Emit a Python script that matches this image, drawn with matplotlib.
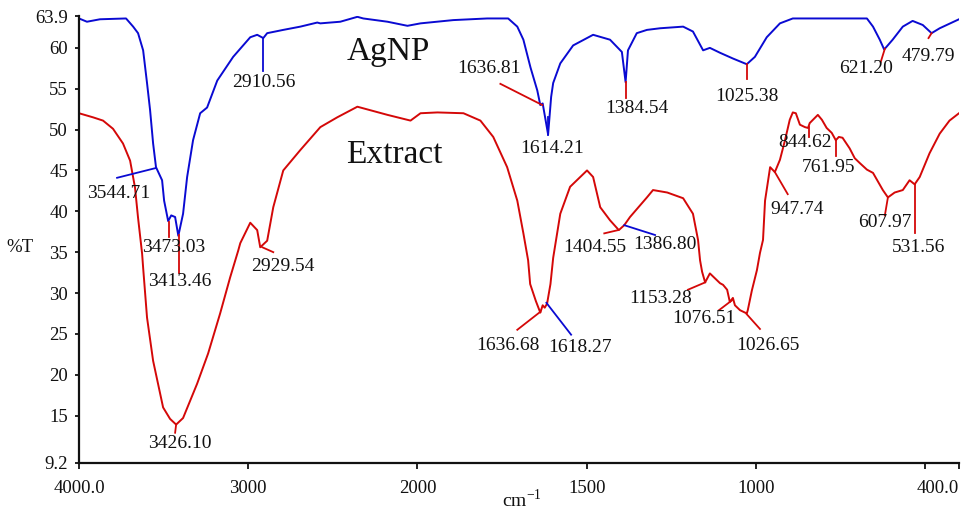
import numpy as np
import matplotlib
matplotlib.use("Agg")
import matplotlib.pyplot as plt

plt.rcParams['font.family'] = ['Liberation Serif', 'DejaVu Serif']
plt.rcParams['mathtext.fontset'] = 'custom'
plt.rcParams['mathtext.rm'] = 'Liberation Serif'

# ---------------- data ----------------
agnp_wn = [4000, 3953, 3876, 3722, 3680, 3651, 3621, 3598, 3580, 3562, 3545, 3509, 3497,
           3473, 3455, 3432, 3413, 3385, 3361, 3326, 3284, 3243, 3183, 3089, 2988, 2947,
           2911, 2888, 2793, 2692, 2592, 2574, 2456, 2355, 2320, 2177, 2059, 1991, 1894,
           1794, 1732, 1705, 1687, 1666, 1646, 1637, 1630, 1614, 1605, 1599, 1578, 1540,
           1481, 1431, 1396, 1385, 1378, 1352, 1322, 1283, 1215, 1186, 1156, 1136, 1106,
           1068, 1027, 1003, 968, 929, 891, 672, 654, 634, 621, 596, 566, 537, 507, 481,
           457, 400]
agnp_t = [63.6, 63.2, 63.5, 63.6, 62.6, 61.8, 59.7, 55.7, 52.4, 48.3, 45.4, 43.8, 41.3,
          38.8, 39.5, 39.3, 37.0, 39.7, 44.2, 48.7, 52.0, 52.7, 56.0, 58.9, 61.3, 61.6,
          61.2, 61.8, 62.2, 62.6, 63.1, 63.0, 63.2, 63.8, 63.6, 63.2, 62.7, 63.0, 63.4,
          63.6, 63.6, 62.6, 61.0, 57.6, 54.8, 53.0, 53.2, 49.4, 54.0, 55.7, 58.1, 60.3,
          61.6, 61.0, 59.5, 55.8, 59.7, 61.8, 62.2, 62.4, 62.6, 62.0, 59.7, 60.0, 59.4,
          58.7, 58.0, 58.9, 61.3, 63.0, 63.6, 63.6, 62.6, 61.0, 59.8, 61.0, 62.6, 63.3,
          62.8, 61.8, 62.4, 63.5]

extract_wn = [4000, 3917, 3858, 3799, 3740, 3698, 3669, 3651, 3627, 3621, 3598, 3562, 3503,
              3462, 3426, 3385, 3302, 3237, 3166, 3107, 3059, 3047, 2988, 2947, 2929, 2888,
              2852, 2793, 2692, 2574, 2474, 2355, 2177, 2041, 1991, 1941, 1864, 1814, 1776,
              1735, 1705, 1687, 1673, 1667, 1650, 1637, 1630, 1624, 1617, 1607, 1599, 1578,
              1549, 1499, 1481, 1460, 1431, 1405, 1389, 1372, 1322, 1304, 1262, 1215, 1186,
              1171, 1165, 1159, 1150, 1136, 1121, 1106, 1097, 1085, 1077, 1068, 1062, 1047,
              1027, 1024, 1012, 997, 988, 979, 973, 958, 944, 929, 914, 900, 891, 882, 870,
              855, 846, 841, 817, 805, 791, 776, 764, 755, 744, 723, 708, 693, 672, 654, 625,
              610, 590, 566, 546, 531, 516, 487, 457, 428, 400]
extract_t = [52.0, 51.5, 51.1, 50.1, 48.3, 46.2, 42.9, 39.2, 34.8, 33.1, 27.0, 21.7, 16.0,
             14.6, 13.9, 14.7, 18.9, 22.6, 27.5, 31.9, 35.2, 36.1, 38.6, 37.7, 35.6, 36.4,
             40.5, 45.0, 47.5, 50.3, 51.5, 52.8, 51.8, 51.1, 52.0, 52.1, 52.0, 51.1, 49.1,
             45.4, 41.3, 37.3, 34.0, 31.1, 29.0, 27.6, 28.5, 28.2, 28.7, 31.1, 34.3, 39.7,
             43.0, 45.0, 44.2, 40.5, 38.9, 37.7, 38.3, 39.3, 41.7, 42.6, 42.3, 41.6, 39.7,
             36.5, 34.0, 32.6, 31.3, 32.4, 31.8, 31.2, 31.0, 30.4, 28.9, 29.4, 28.5, 27.9,
             27.5, 27.9, 30.3, 32.8, 34.9, 36.5, 41.3, 45.4, 44.8, 46.3, 48.7, 51.2, 52.1,
             52.0, 50.6, 50.3, 50.2, 50.8, 51.8, 51.2, 50.2, 49.6, 48.7, 49.1, 49.0, 47.7,
             46.5, 45.9, 45.1, 44.7, 42.6, 41.7, 42.3, 42.6, 43.8, 43.3, 44.2, 47.1, 49.5,
             51.1, 52.0]

x_ticks = [4000, 3000, 2000, 1500, 1000, 500, 400]
x_tick_labels = ['4000.0', '3000', '2000', '1500', '1000', '', '400.0']
y_ticks = [9.2, 15, 20, 25, 30, 35, 40, 45, 50, 55, 60, 63.9]
y_tick_labels = ['9.2', '15', '20', '25', '30', '35', '40', '45', '50', '55', '60', '63.9']

# peak annotations: label, leader start (wn, T), leader end (wn, T), text pos (wn, T), leader colour
peak_labels = [
    ('2910.56', 2911, 61.2, 2911, 57.2, 2905, 55.8, 'b'),
    ('3544.71', 3545, 45.3, 3775, 44.1, 3763, 42.2, 'b'),
    ('3473.03', 3467, 38.7, 3467, 36.9, 3438, 35.6, 'r'),
    ('3413.46', 3408, 37.1, 3408, 32.4, 3402, 31.4, 'r'),
    ('3426.10', 3426, 13.9, 3432, 12.9, 3402, 11.6, 'r'),
    ('2929.54', 2917, 35.6, 2852, 35.0, 2793, 33.2, 'r'),
    ('1636.81', 1631, 53.0, 1755, 55.6, 1788, 57.5, 'r'),
    ('1614.21', 1614, 51.5, 1614, 49.3, 1602, 47.7, 'b'),
    ('1384.54', 1384, 55.8, 1384, 53.9, 1352, 52.6, 'r'),
    ('1025.38', 1027, 58.0, 1027, 56.2, 1027, 54.0, 'r'),
    ('621.20', 619, 59.9, 631, 58.3, 675, 57.5, 'r'),
    ('479.79', 481, 61.8, 490, 61.2, 490, 58.9, 'r'),
    ('1636.68', 1637, 27.7, 1705, 25.5, 1732, 23.6, 'r'),
    ('1618.27', 1619, 28.8, 1546, 24.9, 1519, 23.3, 'b'),
    ('1404.55', 1407, 37.7, 1448, 37.3, 1475, 35.6, 'r'),
    ('1386.80', 1389, 38.3, 1298, 37.1, 1268, 35.9, 'b'),
    ('1153.28', 1150, 31.3, 1201, 30.4, 1283, 29.3, 'r'),
    ('1076.51', 1071, 29.1, 1109, 27.9, 1153, 26.9, 'r'),
    ('1026.65', 1027, 27.4, 988, 25.6, 965, 23.6, 'r'),
    ('947.74', 944, 44.8, 906, 42.1, 879, 40.2, 'r'),
    ('844.62', 844, 50.3, 844, 49.1, 856, 48.4, 'r'),
    ('761.95', 764, 48.7, 764, 46.8, 785, 45.3, 'r'),
    ('607.97', 610, 41.7, 619, 39.5, 619, 38.6, 'r'),
    ('531.56', 531, 43.3, 531, 37.3, 519, 35.6, 'r'),
]

BLUE = '#0a0ad2'
RED = '#d40808'
cmap = {'b': BLUE, 'r': RED}


def fwd(x):
    x = np.asarray(x, dtype=float)
    return np.where(x <= 2000, x, 2000 + (x - 2000) / 2.0)


def inv(u):
    u = np.asarray(u, dtype=float)
    return np.where(u <= 2000, u, 2000 + (u - 2000) * 2.0)


fig = plt.figure(figsize=(9.61, 5.13), dpi=100)
ax = fig.add_axes([0.0822, 0.0975, 0.9157, 0.8713])
ax.set_xscale('function', functions=(fwd, inv))

ax.plot(agnp_wn, agnp_t, color=BLUE, lw=1.4)
ax.plot(extract_wn, extract_t, color=RED, lw=1.4)

for lab, x0, y0, x1, y1, tx, ty, c in peak_labels:
    ax.plot([x0, x1], [y0, y1], color=cmap[c], lw=1.3, clip_on=False)
    ax.text(tx, ty, lab, ha='center', va='center', fontsize=14, color='#111111')

ax.text(2420, 59.5, 'AgNP', ha='left', va='center', fontsize=24, color='#111111')
ax.text(2420, 46.9, 'Extract', ha='left', va='center', fontsize=24, color='#111111')

ax.set_xlim(4000, 400)
ax.set_ylim(9.2, 63.9)
ax.set_xticks(x_ticks)
ax.set_xticklabels(x_tick_labels)
ax.set_yticks(y_ticks)
ax.set_yticklabels(y_tick_labels)
for lbl in ax.get_xticklabels():
    if lbl.get_text() == '400.0':
        lbl.set_horizontalalignment('right')
ax.minorticks_off()

for s in ['top', 'right']:
    ax.spines[s].set_visible(False)
for s in ['left', 'bottom']:
    ax.spines[s].set_linewidth(1.6)
    ax.spines[s].set_color('#111111')
ax.tick_params(axis='x', direction='out', length=4, width=1.3, pad=8, labelsize=13.5,
               colors='#111111')
ax.tick_params(axis='y', direction='out', length=3, width=1.3, pad=5, labelsize=13.5,
               colors='#111111')

fig.text(20 / 961, 1 - 248 / 513, '%T', ha='center', va='center', fontsize=13.5, color='#111111')
fig.text(522 / 961, 1 - 500 / 513, 'cm$^{-1}$', ha='center', va='center', fontsize=14,
         color='#111111')

fig.savefig('out.png', dpi=100)
